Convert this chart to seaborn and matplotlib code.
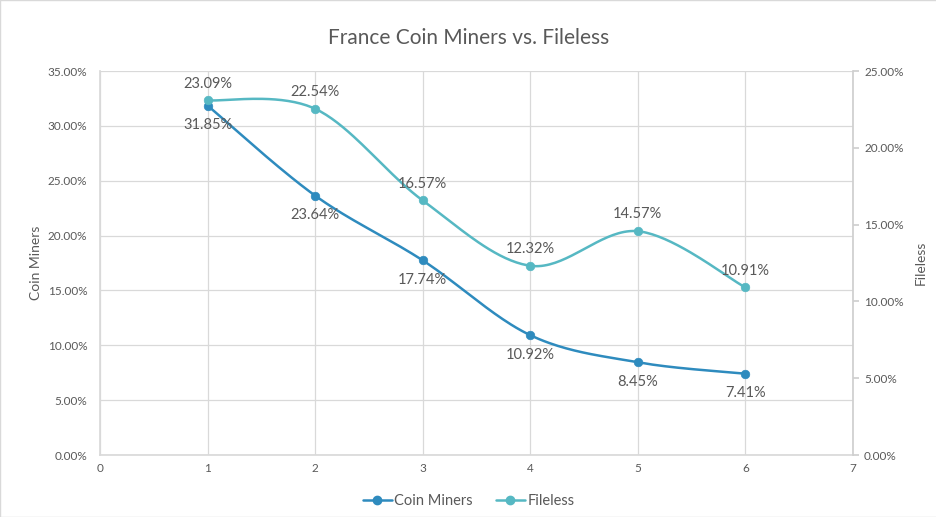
import numpy as np
import matplotlib
matplotlib.use("Agg")
import matplotlib.pyplot as plt
import seaborn as sns
from matplotlib.lines import Line2D
from matplotlib.ticker import FuncFormatter, MultipleLocator

# datos
puntos = [1, 2, 3, 4, 5, 6]
coin_miners = [31.85, 23.64, 17.74, 10.92, 8.45, 7.41]
fileless = [23.09, 22.54, 16.57, 12.32, 14.57, 10.91]

azul = "#2E8BBE"
turquesa = "#56B8C3"
gris = "#595959"
rejilla = "#D9D9D9"

sns.set_theme(style="white")
plt.rcParams["font.family"] = ["Lato", "DejaVu Sans"]


def suavizar(x, y, n=40):
    # curva suavizada tipo Excel (Catmull-Rom / Bezier)
    x = np.asarray(x, float)
    y = np.asarray(y, float)
    p = np.column_stack([x, y])
    ext = np.vstack([p[0], p, p[-1]])
    out = []
    for i in range(len(p) - 1):
        p0, p1, p2, p3 = ext[i], ext[i + 1], ext[i + 2], ext[i + 3]
        c1 = p1 + (p2 - p0) / 6
        c2 = p2 - (p3 - p1) / 6
        t = np.linspace(0, 1, n)[:, None]
        seg = ((1 - t) ** 3) * p1 + 3 * ((1 - t) ** 2) * t * c1 + 3 * (1 - t) * t ** 2 * c2 + t ** 3 * p2
        out.append(seg if i == 0 else seg[1:])
    out = np.vstack(out)
    return out[:, 0], out[:, 1]


fig = plt.figure(figsize=(9.37, 5.17), dpi=100)
ax = fig.add_axes([100 / 937, 1 - 455 / 517, 753 / 937, 384 / 517])
ax2 = ax.twinx()

sx, sy = suavizar(puntos, coin_miners)
sns.lineplot(x=sx, y=sy, ax=ax, color=azul, linewidth=1.8, sort=False, estimator=None, zorder=3)
sns.scatterplot(x=puntos, y=coin_miners, ax=ax, color=azul, s=38, edgecolor=azul, zorder=4)

fx, fy = suavizar(puntos, fileless)
sns.lineplot(x=fx, y=fy, ax=ax2, color=turquesa, linewidth=1.8, sort=False, estimator=None, zorder=3)
sns.scatterplot(x=puntos, y=fileless, ax=ax2, color=turquesa, s=38, edgecolor=turquesa, zorder=4)

# etiquetas de datos
for x, v in zip(puntos, coin_miners):
    ax.annotate(f"{v:.2f}%", (x, v), xytext=(0, -9), textcoords="offset points",
                ha="center", va="top", fontsize=10.5, color=gris)
for x, v in zip(puntos, fileless):
    ax2.annotate(f"{v:.2f}%", (x, v), xytext=(0, 7), textcoords="offset points",
                 ha="center", va="bottom", fontsize=10.5, color=gris)

ax.set_xlim(0, 7)
ax.set_ylim(0, 35)
ax2.set_ylim(0, 25)
ax.xaxis.set_major_locator(MultipleLocator(1))
ax.yaxis.set_major_locator(MultipleLocator(5))
ax2.yaxis.set_major_locator(MultipleLocator(5))
pct = FuncFormatter(lambda v, _: f"{v:.2f}%")
ax.yaxis.set_major_formatter(pct)
ax2.yaxis.set_major_formatter(pct)

ax.grid(True, color=rejilla, linewidth=0.9)
ax.set_axisbelow(True)
ax2.grid(False)

for a in (ax, ax2):
    for s in a.spines.values():
        s.set_visible(False)
    a.tick_params(colors=gris, labelsize=8.5)
ax.spines["left"].set_visible(True)
ax.spines["left"].set_color(rejilla)
ax.spines["bottom"].set_visible(True)
ax.spines["bottom"].set_color(rejilla)
ax2.spines["right"].set_visible(True)
ax2.spines["right"].set_color("#CFCFCF")
ax.tick_params(axis="y", length=0, pad=9)
ax.tick_params(axis="x", length=0, pad=6)
ax2.tick_params(axis="y", length=4, color="#CFCFCF", pad=4, direction="out")

ax.set_ylabel("Coin Miners", fontsize=10, color=gris, labelpad=4)
ax2.set_ylabel("Fileless", fontsize=10, color=gris, labelpad=8, rotation=90)

fig.text(0.5, 1 - 38 / 517, "France Coin Miners vs. Fileless", ha="center", va="center",
         fontsize=15, color=gris)

handles = [
    Line2D([], [], color=azul, marker="o", markersize=6, linewidth=1.8),
    Line2D([], [], color=turquesa, marker="o", markersize=6, linewidth=1.8),
]
fig.legend(handles, ["Coin Miners", "Fileless"], loc="center", bbox_to_anchor=(0.5, 1 - 501 / 517),
           ncol=2, frameon=False, fontsize=10.5, labelcolor=gris, handlelength=2.0,
           handletextpad=0.15, columnspacing=1.6)

fig.patches.append(plt.Rectangle((0, 0), 1, 1, transform=fig.transFigure, fill=False,
                                 edgecolor="#D9D9D9", linewidth=1))

fig.savefig("out.png", dpi=100)
